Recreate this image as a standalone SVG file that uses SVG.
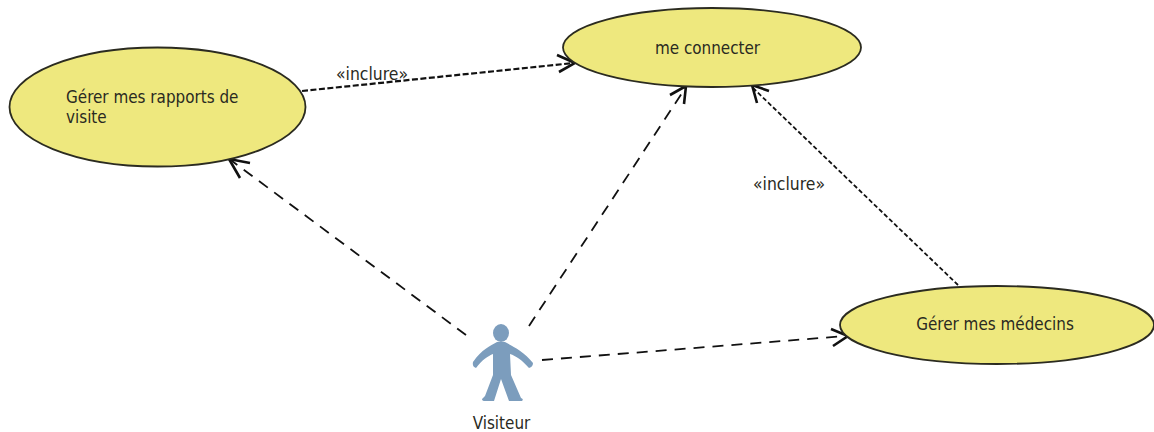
<svg xmlns="http://www.w3.org/2000/svg" width="1154" height="432" viewBox="0 0 1154 432">
<style>
.uc{fill:#eee87e;stroke:#2b2b20;stroke-width:1.8}
.t{font-family:"DejaVu Sans",sans-serif;font-stretch:condensed;font-size:16.9px;fill:#2a2a22}
.s{font-size:17.400px}
.c{fill:none;stroke:#111;stroke-width:1.8}
.long{stroke-dasharray:11 8}
.short{stroke-dasharray:4.500 2.500}
.top{stroke-width:2.200;stroke-dasharray:6 2.500}
.h{fill:none;stroke:#111;stroke-width:2.600}
</style>
<rect width="1154" height="432" fill="#fff"/>
<g id="connectors">
<path class="c short top" d="M302 91L574 63"/><path class="h" d="M557 55L575 63L559 72"/>
<path class="c long" d="M466 335L232 161"/><path class="h" d="M250 163L229 159L240 178"/>
<path class="c long" d="M529 326L684 90"/><path class="h" d="M670 95L686 86L684 104"/>
<path class="c short" d="M958 285L753 88"/><path class="h" d="M757 103L752 85L769 91"/>
<path class="c long" d="M542 360L846 336"/><path class="h" d="M831 329L848 336L833 346"/>
</g>
<g id="rapports"><ellipse class="uc" cx="157.500" cy="107" rx="148" ry="59.500"/><text class="t" x="66" y="103">Gérer mes rapports de</text><text class="t" x="66" y="123">visite</text></g>
<g id="connecter"><ellipse class="uc" cx="712" cy="47.500" rx="149" ry="39.500"/><text class="t" x="707.500" y="54" text-anchor="middle">me connecter</text></g>
<g id="medecins"><ellipse class="uc" cx="997" cy="325" rx="157" ry="39"/><text class="t" x="995" y="330" text-anchor="middle">Gérer mes médecins</text></g>
<g id="visiteur">
<ellipse cx="501" cy="333" rx="8" ry="9" fill="#7c9dbd"/>
<path fill="#7c9dbd" d="M497 342C490 346 482 349 473 362Q472 367 476 368C482 360 488 356 493 354L493 375L485 396L482 399Q482 401 485 401L494 401L501 379L509 401L522 401Q524 399 521 398L511 375L510 354C516 356 522 360 529 368Q533 367 533 363C524 351 512 346 505 342Z"/>
<text class="t" x="501.500" y="429" text-anchor="middle">Visiteur</text>
</g>
<text class="t s" x="336" y="80">«inclure»</text>
<text class="t s" x="753" y="190">«inclure»</text>
</svg>
